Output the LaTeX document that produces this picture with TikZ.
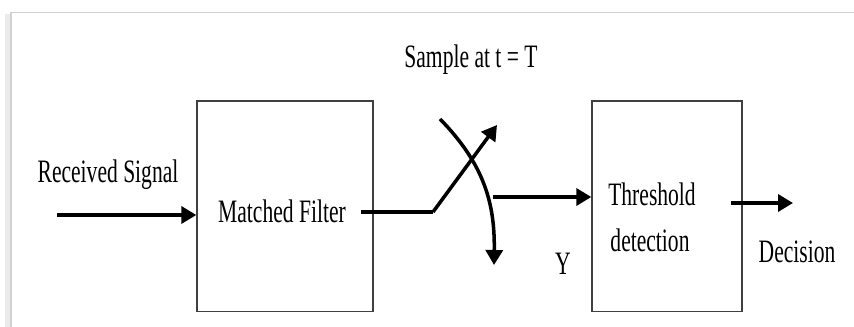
\documentclass[tikz,border=0pt]{standalone}
\usepackage{fontspec}
\setmainfont{Liberation Serif}[FakeStretch=0.66]
\usetikzlibrary{positioning,arrows.meta}
\tikzset{
  blockbox/.style={draw=black!75, line width=0.8pt, minimum width=3.52cm, minimum height=4.22cm},
  sigline/.style={line width=2pt},
  sigarrow/.style={-{Triangle[length=3mm,width=3.4mm]}, line width=2pt},
  lbl/.style={font=\fontsize{18.6}{22}\selectfont, inner sep=0pt, anchor=base},
  framegray/.style={draw=black!18, line width=1pt}
}
\begin{document}
\begin{tikzpicture}[x=0.02cm, y=-0.02cm]
  \useasboundingbox (0,0) rectangle (854,327);
  % page frame
  \draw[black!8, line width=3pt] (8,330) -- (8,14);
  \draw[framegray] (11,330) -- (11,12.5) -- (860,12.5);
  % blocks
  \node[blockbox] (mf) at (285,206.3) {};
  \node[blockbox, minimum width=3.0cm] (td) at (667,206.3) {};
  % labels
  \node[lbl] (rxlabel) at (108,183) {Received Signal};
  \node[lbl] (mflabel) at (282,223) {Matched Filter};
  \node[lbl] (samplelabel) at (471,68) {Sample at t = T};
  \node[lbl] (ylabel) at (563,275) {Y};
  \node[lbl] (thrlabel) at (652,206) {Threshold};
  \node[lbl] (detlabel) at (650,252) {detection};
  \node[lbl] (declabel) at (797,262) {Decision};
  % switch points
  \coordinate (rxin) at (57,215);
  \coordinate (mfout) at (361,212);
  \coordinate (pivot) at (433,212);
  \coordinate (swtip) at (497,125);
  \coordinate (armstart) at (440,119);
  \coordinate (armend) at (494,265);
  \coordinate (yout) at (493,197);
  \coordinate (tdout) at (731,203);
  \coordinate (decend) at (793,203);
  % connectors
  \draw[sigarrow] (rxin) -- (rxin -| mf.west);
  \draw[sigline] (mfout) -- (pivot);
  \draw[sigarrow] (pivot) -- (swtip);
  \draw[sigarrow] (armstart) .. controls (485,165) and (495,205) .. (armend);
  \draw[sigarrow] (yout) -- (yout -| td.west);
  \draw[sigarrow] (tdout) -- (decend);
\end{tikzpicture}
\end{document}
